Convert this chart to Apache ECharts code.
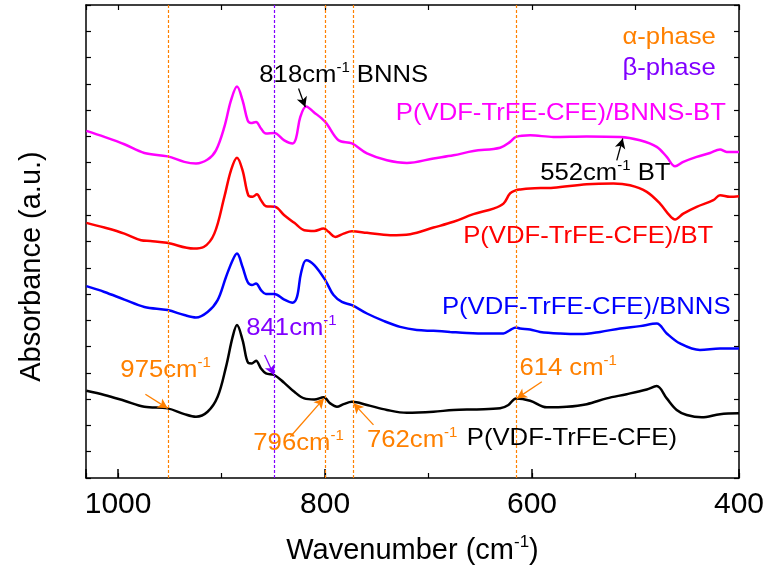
<!DOCTYPE html>
<html><head><meta charset="utf-8">
<script src="https://cdn.jsdelivr.net/npm/echarts@6/dist/echarts.min.js"></script>
<style>html,body{margin:0;padding:0;background:#fff}#c{width:767px;height:572px}</style>
</head><body><div id="c"></div>
<script>
// ---------- data ----------
const xTickLabels = [1000, 800, 600, 400];

const pureWn  = [1030.6,1013.2,993.9,974.6,952.1,936.0,924.7,913.5,903.8,895.7,889.3,885.1,879.7,874.2,870.6,866.7,861.9,857.1,849.1,839.4,829.7,820.1,810.4,801.4,795.0,788.5,782.1,774.0,759.5,740.2,720.9,695.2,675.9,653.3,630.8,622.8,615.4,601.8,585.7,566.4,547.1,527.8,508.5,489.1,479.5,469.8,460.2,450.5,436.0,418.3,400];
const pureAbs = [3.32,3.16,2.94,2.71,2.65,2.43,2.33,2.52,3.09,4.23,5.37,5.82,5.25,4.38,4.36,4.46,4.17,3.98,3.92,3.62,3.28,3.03,2.99,3.07,2.84,2.71,2.81,2.90,2.78,2.59,2.48,2.52,2.59,2.61,2.65,2.78,3.03,2.94,2.69,2.71,2.81,3.03,3.19,3.37,3.50,3.03,2.59,2.40,2.31,2.43,2.46];

const bnnsWn  = [1030.6,1013.2,993.9,974.6,952.1,936.0,924.7,913.5,903.8,895.7,889.3,885.1,879.7,874.8,870.6,866.7,861.9,857.1,849.1,839.4,831.4,827.1,823.3,818.2,810.4,799.8,791.8,783.7,774.0,759.5,743.5,727.4,711.3,695.2,679.1,662.9,643.6,627.6,621.2,615.4,611.5,601.8,592.2,572.8,553.5,534.2,514.9,495.7,479.5,469.8,457.0,437.7,418.3,400];
const bnnsAbs = [7.30,7.08,6.79,6.51,6.39,6.20,6.11,6.32,6.77,7.65,8.29,8.54,8.03,7.46,7.34,7.40,7.15,7.00,7.00,6.79,6.67,6.89,7.78,8.29,8.10,7.53,6.96,6.70,6.58,6.26,5.98,5.75,5.63,5.60,5.56,5.52,5.50,5.50,5.63,5.73,5.69,5.65,5.56,5.50,5.48,5.56,5.69,5.78,5.88,5.50,5.12,4.87,4.93,4.93];

const btWn  = [1030.6,1013.2,993.9,977.8,968.8,952.7,927.0,917.3,907.0,897.3,890.9,885.1,879.7,874.2,870.0,865.8,861.9,857.1,848.4,839.4,829.7,820.1,810.4,801.4,796.6,790.2,782.1,774.0,759.5,737.0,717.7,695.2,675.9,656.6,637.3,627.6,621.2,615.4,611.5,601.8,579.3,547.1,521.4,505.3,489.1,476.3,467.3,461.8,453.8,440.9,424.8,418.3,408.7,400];
const btAbs = [9.71,9.53,9.30,9.05,9.02,8.95,8.73,8.79,9.30,10.70,11.71,12.19,11.71,10.76,10.70,10.80,10.57,10.34,10.32,10.00,9.71,9.43,9.40,9.49,9.37,9.17,9.30,9.39,9.33,9.24,9.28,9.53,9.75,10.04,10.25,10.44,10.83,10.95,10.98,11.02,11.05,11.18,11.21,11.14,10.89,10.44,10.00,9.84,10.06,10.32,10.57,10.76,10.70,10.72];

const bnnsBtWn  = [1030.6,1013.2,993.9,974.6,952.1,936.0,924.7,913.5,905.4,897.3,890.9,885.1,879.7,874.8,871.6,866.7,861.9,857.1,849.1,839.4,831.4,828.1,823.9,818.2,811.1,799.8,787.0,774.0,759.5,740.2,720.9,695.2,675.9,656.6,630.8,621.2,615.4,601.8,579.3,547.1,514.9,495.7,479.5,469.8,461.8,453.8,440.9,428.0,418.3,411.9,400];
const bnnsBtAbs = [13.21,12.98,12.70,12.37,12.24,12.03,11.97,12.12,12.47,13.36,14.37,14.90,14.37,13.61,13.51,13.55,13.30,13.11,13.13,12.85,12.73,12.92,13.74,14.14,13.93,13.55,12.85,12.73,12.35,12.09,11.99,12.16,12.28,12.44,12.57,12.79,12.98,13.04,12.98,13.00,12.98,12.85,12.60,12.22,11.86,12.03,12.22,12.37,12.50,12.41,12.41];

const alphaLines = [951.5, 800.0, 772.8, 615.6];
const betaLines  = [848.8];

// ---------- chart ----------
const FONT = "'Liberation Sans', Arial, sans-serif";
const ORANGE = '#FF8000', PURPLE = '#8000FF', MAGENTA = '#FF00FF';
const xMin = 400, xMax = 1031;
const pairs = (xs, ys) => xs.map((x, i) => [x, ys[i]]);

const chart = echarts.init(document.getElementById('c'));

const baseX = {
  type: 'value', inverse: true, min: xMin, max: xMax,
  splitLine: { show: false }
};
const baseY = {
  type: 'value', min: 0, max: 18, interval: 1,
  splitLine: { show: false }, axisLabel: { show: false },
  axisLine: { show: true, onZero: false, lineStyle: { color: '#000', width: 1.5 } },
  axisTick: { show: true, inside: true, length: 5, lineStyle: { color: '#000', width: 1.2 } }
};

const phaseMark = {
  silent: true, symbol: ['none', 'none'], label: { show: false },
  lineStyle: { type: [3, 2], width: 1.2 },
  data: alphaLines.map(v => ({ xAxis: v, lineStyle: { color: ORANGE, type: [3, 2], width: 1.2 } }))
    .concat(betaLines.map(v => ({ xAxis: v, lineStyle: { color: PURPLE, type: [3, 2], width: 1.2 } })))
};

// arrows (tail -> head) in data coordinates
const arrows = [
  { from: [518.1, 12.09], to: [512.3, 12.92], color: '#000' },
  { from: [825.6, 14.82], to: [819.1, 14.12], color: '#000' },
  { from: [858.4, 4.68], to: [849.4, 3.92], color: PURPLE },
  { from: [973.6, 3.19], to: [952.0, 2.65], color: ORANGE },
  { from: [833.6, 1.57], to: [801.0, 3.03], color: ORANGE },
  { from: [753.2, 2.02], to: [772.5, 2.84], color: ORANGE },
  { from: [590.5, 3.66], to: [614.7, 3.03], color: ORANGE }
];
const arrowMark = {
  silent: true, symbol: ['none', 'arrow'], symbolSize: [8, 10], label: { show: false },
  data: arrows.map(a => [
    { coord: a.from, lineStyle: { color: a.color, width: 1.3, type: 'solid' }, itemStyle: { color: a.color } },
    { coord: a.to }
  ])
};

function lineSeries(name, xs, ys, color, extra) {
  return Object.assign({
    name, type: 'line', data: pairs(xs, ys), xAxisIndex: 0, yAxisIndex: 0,
    showSymbol: false, smooth: 0.35, animation: false,
    lineStyle: { color, width: 2.5 }, itemStyle: { color }
  }, extra || {});
}

chart.setOption({
  animation: false,
  backgroundColor: '#fff',
  grid: { left: 86, right: 28, top: 5, bottom: 94, containLabel: false },
  xAxis: [
    Object.assign({}, baseX, {
      position: 'bottom', interval: 200,
      axisLine: { show: true, onZero: false, lineStyle: { color: '#000', width: 1.5 } },
      axisTick: { show: true, inside: true, length: 9, lineStyle: { color: '#000', width: 1.5 } },
      axisLabel: { color: '#000', fontSize: 30, fontFamily: FONT, margin: 12,
        formatter: v => xTickLabels.indexOf(v) >= 0 ? String(v) : '' },
      name: '{t|Wavenumber (cm}{s|-1}{t|)}', nameLocation: 'middle', nameGap: 56,
      nameTextStyle: { color: '#000', rich: {
        t: { fontSize: 29, fontFamily: FONT, color: '#000', lineHeight: 34 },
        s: { fontSize: 17, fontFamily: FONT, color: '#000', verticalAlign: 'top', lineHeight: 17 } } }
    }),
    Object.assign({}, baseX, {
      position: 'bottom', interval: 100,
      axisLine: { show: false, onZero: false },
      axisTick: { show: true, inside: true, length: 5, lineStyle: { color: '#000', width: 1.2 } },
      axisLabel: { show: false }
    }),
    Object.assign({}, baseX, {
      position: 'top', interval: 100,
      axisLine: { show: true, onZero: false, lineStyle: { color: '#000', width: 1.5 } },
      axisTick: { show: true, inside: true, length: 5, lineStyle: { color: '#000', width: 1.2 } },
      axisLabel: { show: false }
    })
  ],
  yAxis: [
    Object.assign({}, baseY, {
      position: 'left',
      name: 'Absorbance (a.u.)', nameLocation: 'middle', nameGap: 40,
      nameTextStyle: { color: '#000', fontSize: 29, fontFamily: FONT, padding: [0, 50, 0, 0] }
    }),
    Object.assign({}, baseY, { position: 'right' })
  ],
  series: [
    lineSeries('P(VDF-TrFE-CFE)', pureWn, pureAbs, '#000000', { markLine: phaseMark, z: 3 }),
    lineSeries('P(VDF-TrFE-CFE)/BNNS', bnnsWn, bnnsAbs, '#0000FF', { z: 3 }),
    lineSeries('P(VDF-TrFE-CFE)/BT', btWn, btAbs, '#FF0000', { z: 3 }),
    lineSeries('P(VDF-TrFE-CFE)/BNNS-BT', bnnsBtWn, bnnsBtAbs, MAGENTA, { markLine: arrowMark, z: 4 })
  ]
});

// ---------- text annotations (anchored in data coordinates) ----------
const notes = [
  { at: [512.6, 16.78], parts: [['α-phase']], color: ORANGE },
  { at: [512.6, 15.58], parts: [['β-phase']], color: PURPLE },
  { at: [731.6, 13.88], parts: [['P(VDF-TrFE-CFE)/BNNS-BT']], color: MAGENTA },
  { at: [592.1, 11.60], parts: [['552cm'], ['-1', 's'], [' BT']], color: '#000' },
  { at: [863.5, 15.32], parts: [['818cm'], ['-1', 's'], [' BNNS']], color: '#000' },
  { at: [666.5, 9.20], parts: [['P(VDF-TrFE-CFE)/BT']], color: '#FF0000' },
  { at: [687.1, 6.51], parts: [['P(VDF-TrFE-CFE)/BNNS']], color: '#0000FF' },
  { at: [876.1, 5.70], parts: [['841cm'], ['-1', 's']], color: PURPLE },
  { at: [997.8, 4.11], parts: [['975cm'], ['-1', 's']], color: ORANGE },
  { at: [869.3, 1.32], parts: [['796cm'], ['-1', 's']], color: ORANGE },
  { at: [759.5, 1.44], parts: [['762cm'], ['-1', 's']], color: ORANGE },
  { at: [663.0, 1.51], parts: [['P(VDF-TrFE-CFE)']], color: '#000' },
  { at: [612.2, 4.17], parts: [['614 cm'], ['-1', 's']], color: ORANGE }
];

const graphics = notes.map(n => {
  const p = chart.convertToPixel({ xAxisIndex: 0, yAxisIndex: 0 }, n.at);
  const text = n.parts.map(pt => '{' + (pt[1] || 't') + '|' + pt[0] + '}').join('');
  return {
    type: 'text', x: p[0], y: p[1], scaleX: 1.07, z: 10, silent: true,
    style: {
      text, fill: n.color, align: 'left', verticalAlign: 'middle',
      fontFamily: FONT, fontSize: 24,
      rich: {
        t: { fontSize: 24, fontFamily: FONT, fill: n.color, lineHeight: 28 },
        s: { fontSize: 14, fontFamily: FONT, fill: n.color, verticalAlign: 'top', lineHeight: 14 }
      }
    }
  };
});
chart.setOption({ graphic: graphics });
</script>
</body></html>
